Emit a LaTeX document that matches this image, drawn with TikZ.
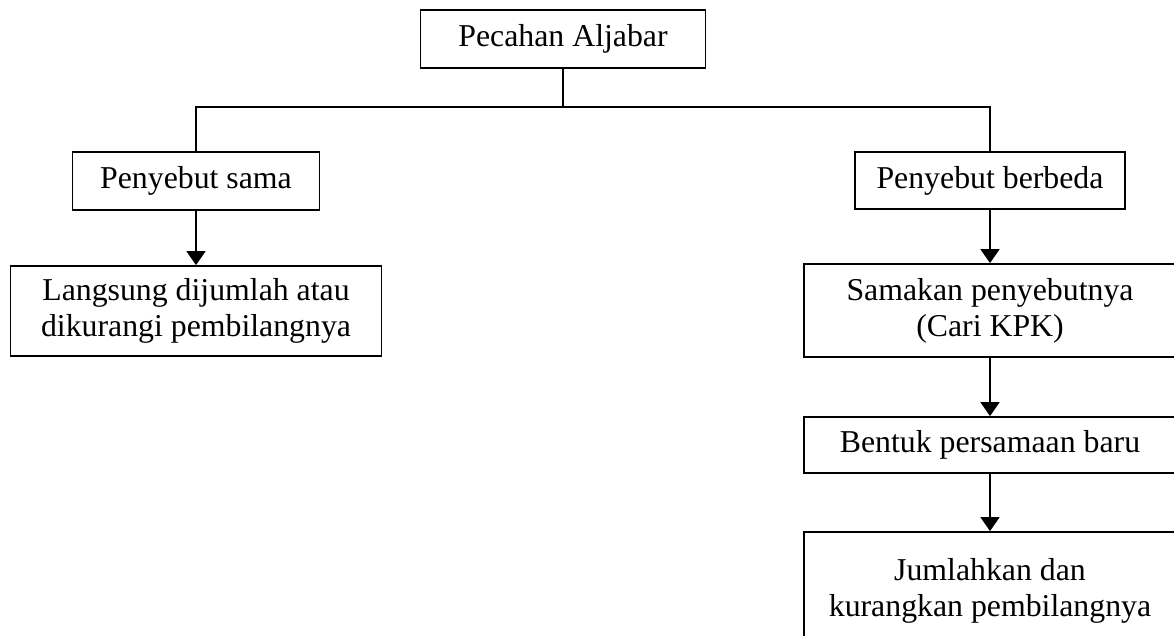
\documentclass[tikz,border=0pt]{standalone}
\usepackage{fontspec}
\setmainfont{Liberation Serif}
\usetikzlibrary{arrows.meta}
\tikzset{
  box/.style={draw, line width=1.8pt, inner sep=0pt, align=center,
    font=\fontsize{31.8}{36}\selectfont},
  link/.style={line width=1.8pt},
  arr/.style={line width=1.8pt, -{Triangle[width=19pt,length=14pt]}}
}
\begin{document}
\begin{tikzpicture}[x=1pt,y=-1pt]
\useasboundingbox (0,0) rectangle (1174,635);
\clip (0,0) rectangle (1174,635);
\node[box, minimum width=285pt, minimum height=58pt] (top) at (563,39) {Pecahan Aljabar};
\node[box, minimum width=247pt, minimum height=58pt] (ps) at (196,181) {Penyebut sama};
\node[box, minimum width=371pt, minimum height=90pt] (lang) at (196,311) {Langsung dijumlah atau\\dikurangi pembilangnya};
\node[box, minimum width=270pt, minimum height=57pt] (pb) at (990,180.5) {Penyebut berbeda};
\node[box, minimum width=372pt, minimum height=93pt] (sam) at (990,310.5) {Samakan penyebutnya\\(Cari KPK)};
\node[box, minimum width=372pt, minimum height=56pt] (bentuk) at (990,445) {Bentuk persamaan baru};
\node[box, minimum width=372pt, minimum height=118pt] (jum) at (990,591) {Jumlahkan dan\\kurangkan pembilangnya};
\coordinate (j) at (563,107);
\draw[link] (top.south) -- (j);
\draw[link] (j) -| (ps.north);
\draw[link] (j) -| (pb.north);
\draw[arr] (ps.south) -- (lang.north);
\draw[arr] (pb.south) -- (sam.north);
\draw[arr] (sam.south) -- (bentuk.north);
\draw[arr] (bentuk.south) -- (jum.north);
\end{tikzpicture}
\end{document}
